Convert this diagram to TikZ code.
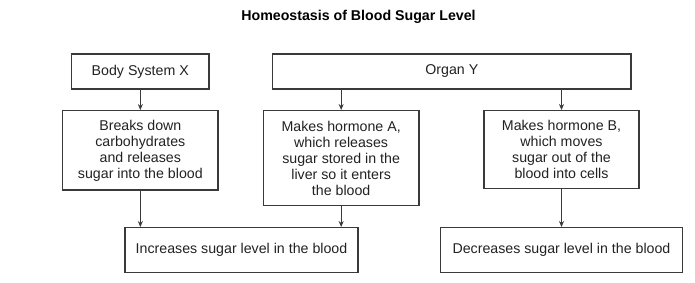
\documentclass[tikz,border=0pt]{standalone}
\usepackage{fontspec}
\setmainfont{Liberation Sans}
\usetikzlibrary{arrows.meta}
\definecolor{linec}{HTML}{3A3A3A}
\definecolor{textc}{HTML}{222222}
\begin{document}
\begin{tikzpicture}[x=1pt,y=-1pt,
  box/.style={draw=linec, line width=1.3pt, inner sep=0pt, align=center,
    text=textc, font=\fontsize{14.2}{16}\selectfont, anchor=center},
  arr/.style={draw=linec, line width=1.1pt, -{Stealth[length=6pt,width=5pt]}}]
\useasboundingbox[fill=white] (0,0) rectangle (695,283);
\node[text=black, font=\bfseries\fontsize{14.2}{16}\selectfont] (title) at (358.5,17) {Homeostasis of Blood Sugar Level};
\node[box, minimum width=137.5pt, minimum height=35pt] (bsx) at (140.25,71.5) {Body System X};
\node[box, minimum width=358.3pt, minimum height=35pt] (orgy) at (451.85,71.5) {Organ Y};
\node[box, minimum width=155.3pt, minimum height=79.3pt] (b1) at (140.35,150.35) {Breaks down\\carbohydrates\\and releases\\sugar into the blood};
\node[box, minimum width=155.7pt, minimum height=94.6pt] (b2) at (341.15,158) {Makes hormone A,\\which releases\\sugar stored in the\\liver so it enters\\the blood};
\node[box, minimum width=155pt, minimum height=77.6pt] (b3) at (561.5,149.5) {Makes hormone B,\\which moves\\sugar out of the\\blood into cells};
\node[box, minimum width=233pt, minimum height=45pt] (inc) at (241.5,250.2) {Increases sugar level in the blood};
\node[box, minimum width=241.6pt, minimum height=45pt] (dec) at (561.5,250.2) {Decreases sugar level in the blood};
\draw[arr] (bsx.south -| b1.north) -- (b1.north);
\draw[arr] (b2.north |- orgy.south) -- (b2.north);
\draw[arr] (b3.north |- orgy.south) -- (b3.north);
\draw[arr] (b1.south) -- (b1.south |- inc.north);
\draw[arr] (b2.south) -- (b2.south |- inc.north);
\draw[arr] (b3.south) -- (b3.south |- dec.north);
\end{tikzpicture}
\end{document}
